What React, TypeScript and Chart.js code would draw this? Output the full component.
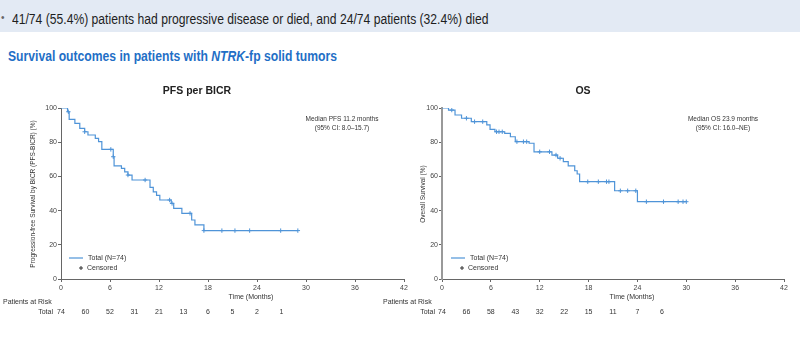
import React, { useEffect, useLayoutEffect, useRef } from "react";
import { Chart, registerables } from "chart.js";

Chart.register(...registerables);

// ---------- data ----------
const xTickValues = [0, 6, 12, 18, 24, 30, 36, 42];
const yTickValues = [0, 20, 40, 60, 80, 100];
const riskMonths = [0, 3, 6, 9, 12, 15, 18, 21, 24, 27];
const pfsAtRisk = [74, 60, 52, 31, 21, 13, 6, 5, 2, 1];
const osAtRisk = [74, 66, 58, 43, 32, 22, 15, 11, 7, 6];

const pfsTimes = [0, 0.8, 1.0, 1.7, 2.3, 2.9, 3.3, 4.2, 4.6, 5.0, 6.4, 6.5, 7.4, 7.8, 8.2, 8.7, 10.9, 11.3, 11.7, 12.1, 13.5, 13.8, 14.8, 16.0, 16.4, 17.5, 29.0];
const pfsSurv = [100, 97.8, 93.4, 91.0, 88.1, 86.1, 84.2, 82.2, 80.3, 75.8, 71.5, 66.1, 64.7, 62.7, 60.8, 57.9, 53.6, 51.0, 48.9, 46.2, 44.2, 41.3, 38.4, 34.5, 31.6, 28.3, 28.3];
const pfsCensorTimes = [0.9, 2.9, 6.1, 6.4, 8.2, 10.3, 13.3, 13.6, 15.8, 17.5, 19.7, 21.3, 23.1, 26.9, 29.0];
const pfsCensorSurv = [97.8, 86.1, 75.8, 71.5, 60.8, 57.9, 46.2, 44.2, 38.4, 28.3, 28.3, 28.3, 28.3, 28.3, 28.3];

const osTimes = [0, 0.8, 1.6, 2.4, 3.6, 5.5, 5.9, 6.5, 7.7, 8.4, 9.0, 10.7, 11.3, 13.5, 14.2, 14.9, 15.5, 16.3, 16.6, 16.9, 21.2, 24.0, 30.0];
const osSurv = [100, 98.8, 95.9, 94.0, 92.0, 90.1, 87.5, 86.1, 85.2, 83.2, 80.3, 79.4, 74.4, 72.5, 70.6, 68.6, 66.1, 63.3, 61.4, 56.9, 51.6, 45.2, 45.2];
const osCensorTimes = [1.2, 3.0, 4.0, 5.0, 6.7, 7.0, 7.4, 9.2, 10.0, 10.4, 12.0, 13.2, 14.0, 14.5, 17.9, 19.2, 20.2, 20.5, 21.9, 22.8, 23.8, 25.1, 27.2, 29.0, 29.6, 30.0];
const osCensorSurv = [98.8, 94.0, 92.0, 92.0, 86.1, 86.1, 86.1, 80.3, 80.3, 80.3, 74.4, 74.4, 72.5, 70.6, 56.9, 56.9, 56.9, 56.9, 51.6, 51.6, 51.6, 45.2, 45.2, 45.2, 45.2, 45.2];

const BLUE = "#4f94d8";
const FONT = '"Liberation Sans", Arial, sans-serif';

type Cfg = {
  offX: number;
  offY: number;
  width: number;
  height: number;
  yWidth: number;
  padRight: number;
  yBorderColor: string;
  yBorderWidth: number;
  times: number[];
  surv: number[];
  cTimes: number[];
  cSurv: number[];
  atRisk: number[];
  title: string;
  titleX: number;
  titleY: number;
  median: string[];
  medianX: number;
  yTitle: string;
  yTitleX: number;
  xTitleX: number;
  legLine: [number, number];
  legTextX: number;
  plusX: number;
  censTextX: number;
  riskLabelX: number;
  totalX: number;
};

function buildChart(canvas: HTMLCanvasElement, c: Cfg) {
  const decor = {
    id: "decor",
    afterDraw(chart: any) {
      const ctx = chart.ctx as CanvasRenderingContext2D;
      const X = (v: number) => v - c.offX;
      const Y = (v: number) => v - c.offY;
      ctx.save();
      ctx.textBaseline = "middle";
      // title
      ctx.fillStyle = "#222";
      ctx.font = `bold 10.5px ${FONT}`;
      ctx.textAlign = "center";
      ctx.fillText(c.title, X(c.titleX), Y(91));
      // median
      ctx.fillStyle = "#333";
      ctx.font = `6.5px ${FONT}`;
      ctx.fillText(c.median[0], X(c.medianX), Y(119));
      ctx.fillText(c.median[1], X(c.medianX), Y(128));
      // x title
      ctx.font = `7px ${FONT}`;
      ctx.fillText("Time (Months)", X(c.xTitleX), Y(297));
      // y title
      ctx.save();
      ctx.translate(X(c.yTitleX), Y(194));
      ctx.rotate(-Math.PI / 2);
      ctx.font = `6.5px ${FONT}`;
      ctx.fillText(c.yTitle, 0, 0);
      ctx.restore();
      // legend
      ctx.strokeStyle = BLUE;
      ctx.lineWidth = 1.2;
      ctx.beginPath();
      ctx.moveTo(X(c.legLine[0]), Y(258));
      ctx.lineTo(X(c.legLine[1]), Y(258));
      ctx.stroke();
      ctx.textAlign = "left";
      ctx.font = `7px ${FONT}`;
      ctx.fillStyle = "#333";
      ctx.fillText("Total (N=74)", X(c.legTextX), Y(258));
      ctx.fillText("Censored", X(c.censTextX), Y(268));
      ctx.strokeStyle = "#333";
      ctx.lineWidth = 1;
      ctx.beginPath();
      ctx.moveTo(X(c.plusX) - 2, Y(268));
      ctx.lineTo(X(c.plusX) + 2, Y(268));
      ctx.moveTo(X(c.plusX), Y(268) - 2);
      ctx.lineTo(X(c.plusX), Y(268) + 2);
      ctx.stroke();
      // patients at risk
      ctx.fillText("Patients at Risk", X(c.riskLabelX), Y(302));
      ctx.textAlign = "right";
      ctx.fillText("Total", X(c.totalX), Y(312));
      ctx.textAlign = "center";
      const xs = chart.scales.x;
      c.atRisk.forEach((n, i) => {
        ctx.fillText(String(n), xs.getPixelForValue(riskMonths[i]), Y(312));
      });
      ctx.restore();
    },
  };

  return new Chart(canvas, {
    type: "line",
    data: {
      datasets: [
        {
          data: c.times.map((t, i) => ({ x: t, y: c.surv[i] })),
          stepped: true,
          borderColor: BLUE,
          borderWidth: 1.2,
          pointRadius: 0,
          fill: false,
        } as any,
        {
          data: c.cTimes.map((t, i) => ({ x: t, y: c.cSurv[i] })),
          showLine: false,
          pointStyle: "cross",
          pointRadius: 2.2,
          borderColor: BLUE,
          backgroundColor: BLUE,
          borderWidth: 1,
        } as any,
      ],
    },
    options: {
      animation: false,
      responsive: false,
      maintainAspectRatio: false,
      layout: { padding: { left: 0, right: c.padRight, top: 28, bottom: 21 } },
      plugins: {
        legend: { display: false },
        tooltip: { enabled: false },
        title: { display: false },
      },
      scales: {
        x: {
          type: "linear",
          min: 0,
          max: 42,
          afterBuildTicks: (s: any) => {
            s.ticks = xTickValues.map((v) => ({ value: v }));
          },
          afterFit: (s: any) => {
            s.height = 20;
          },
          grid: { drawOnChartArea: false, drawTicks: true, tickLength: 3, color: "#666" },
          border: { color: "#666", width: 1 },
          ticks: { font: { size: 7, family: FONT }, color: "#444", padding: 2, maxRotation: 0, autoSkip: false },
        },
        y: {
          type: "linear",
          min: 0,
          max: 100,
          afterBuildTicks: (s: any) => {
            s.ticks = yTickValues.map((v) => ({ value: v }));
          },
          afterFit: (s: any) => {
            s.width = c.yWidth;
          },
          grid: { drawOnChartArea: false, drawTicks: true, tickLength: 3, color: "#666" },
          border: { color: c.yBorderColor, width: c.yBorderWidth },
          ticks: { font: { size: 7, family: FONT }, color: "#444", padding: 1 },
        },
      },
    } as any,
    plugins: [decor],
  });
}

const leftCfg: Cfg = {
  offX: 0,
  offY: 80,
  width: 410,
  height: 240,
  yWidth: 61,
  padRight: 6,
  yBorderColor: "#666",
  yBorderWidth: 1,
  times: pfsTimes,
  surv: pfsSurv,
  cTimes: pfsCensorTimes,
  cSurv: pfsCensorSurv,
  atRisk: pfsAtRisk,
  title: "PFS per BICR",
  titleX: 197,
  titleY: 91,
  median: ["Median PFS 11.2 months", "(95% CI: 8.0\u201315.7)"],
  medianX: 342,
  yTitle: "Progression-free Survival by BICR (PFS-BICR) (%)",
  yTitleX: 33,
  xTitleX: 251,
  legLine: [69, 83],
  legTextX: 88,
  plusX: 81,
  censTextX: 87,
  riskLabelX: 3,
  totalX: 53,
};

const rightCfg: Cfg = {
  offX: 380,
  offY: 80,
  width: 420,
  height: 240,
  yWidth: 62,
  padRight: 16,
  yBorderColor: "#999",
  yBorderWidth: 2,
  times: osTimes,
  surv: osSurv,
  cTimes: osCensorTimes,
  cSurv: osCensorSurv,
  atRisk: osAtRisk,
  title: "OS",
  titleX: 583,
  titleY: 91,
  median: ["Median OS 23.9 months", "(95% CI: 16.0\u2013NE)"],
  medianX: 723,
  yTitle: "Overall Survival (%)",
  yTitleX: 423,
  xTitleX: 632,
  legLine: [451, 465],
  legTextX: 470,
  plusX: 462,
  censTextX: 468,
  riskLabelX: 383,
  totalX: 435,
};

function KMChart({ cfg }: { cfg: Cfg }) {
  const ref = useRef<HTMLCanvasElement>(null);
  useEffect(() => {
    if (!ref.current) return;
    const ch = buildChart(ref.current, cfg);
    return () => ch.destroy();
  }, [cfg]);
  return (
    <canvas
      ref={ref}
      width={cfg.width}
      height={cfg.height}
      style={{ position: "absolute", left: cfg.offX, top: cfg.offY, width: cfg.width, height: cfg.height }}
    />
  );
}

function FitText({ children, target, style }: { children: React.ReactNode; target: number; style: React.CSSProperties }) {
  const ref = useRef<HTMLSpanElement>(null);
  useLayoutEffect(() => {
    const el = ref.current;
    if (!el) return;
    const w = el.offsetWidth;
    if (w > 0) el.style.transform = `scaleX(${target / w})`;
  }, [target]);
  return (
    <span ref={ref} style={{ position: "absolute", whiteSpace: "nowrap", transformOrigin: "left center", ...style }}>
      {children}
    </span>
  );
}

export default function App() {
  return (
    <div
      style={{
        position: "absolute",
        left: 0,
        top: 0,
        width: 800,
        height: 355,
        background: "#ffffff",
        overflow: "hidden",
        fontFamily: FONT,
      }}
    >
      <div style={{ position: "absolute", left: 0, top: 0, width: 800, height: 32, background: "#e3eaf4" }} />
      <span style={{ position: "absolute", left: 1, top: 11, fontSize: 10, lineHeight: "14px", color: "#666" }}>•</span>
      <FitText target={476} style={{ left: 12, top: 12, fontSize: 14, lineHeight: "14px", color: "#1e1e1e" }}>
        41/74 (55.4%) patients had progressive disease or died, and 24/74 patients (32.4%) died
      </FitText>
      <FitText target={329} style={{ left: 8, top: 48, fontSize: 15, lineHeight: "15px", color: "#1f6fc6", fontWeight: "bold" }}>
        Survival outcomes in patients with <i>NTRK</i>-fp solid tumors
      </FitText>
      <KMChart cfg={leftCfg} />
      <KMChart cfg={rightCfg} />
    </div>
  );
}
